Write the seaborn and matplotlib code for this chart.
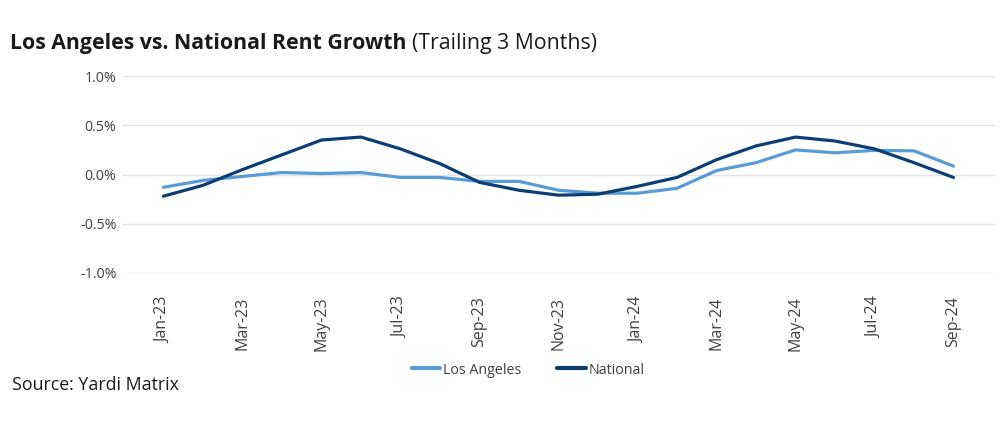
import matplotlib
matplotlib.use("Agg")
import matplotlib.pyplot as plt
import seaborn as sns
import pandas as pd
from matplotlib.ticker import FuncFormatter

# Данные (в процентах)
months = ["Jan-23", "Feb-23", "Mar-23", "Apr-23", "May-23", "Jun-23", "Jul-23",
          "Aug-23", "Sep-23", "Oct-23", "Nov-23", "Dec-23", "Jan-24", "Feb-24",
          "Mar-24", "Apr-24", "May-24", "Jun-24", "Jul-24", "Aug-24", "Sep-24"]
los_angeles = [-0.13, -0.06, -0.02, 0.02, 0.01, 0.02, -0.03, -0.03, -0.07, -0.07,
               -0.16, -0.19, -0.19, -0.14, 0.04, 0.12, 0.25, 0.22, 0.245, 0.24, 0.085]
national = [-0.22, -0.11, 0.05, 0.20, 0.35, 0.38, 0.26, 0.11, -0.08, -0.16,
            -0.21, -0.20, -0.12, -0.03, 0.15, 0.29, 0.38, 0.34, 0.26, 0.12, -0.03]

df = pd.DataFrame({"month": months * 2,
                   "value": los_angeles + national,
                   "series": ["Los Angeles"] * len(months) + ["National"] * len(months)})

colors = {"Los Angeles": "#5b9bd5", "National": "#0b3f73"}

sns.set_theme(style="white")
plt.rcParams['font.family'] = ['Open Sans', 'DejaVu Sans']

fig = plt.figure(figsize=(10.07, 4.33), dpi=100)
ax = fig.add_axes([122 / 1007, 1 - 273 / 433, (995 - 122) / 1007, (273 - 76) / 433])

sns.lineplot(data=df, x="month", y="value", hue="series", palette=colors,
             linewidth=2.3, ax=ax, legend=False, sort=False)

ax.set_ylim(-1.0, 1.0)
ax.set_yticks([-1.0, -0.5, 0.0, 0.5, 1.0])
ax.yaxis.set_major_formatter(FuncFormatter(lambda v, p: f"{v:.1f}%"))
ax.set_xlim(-1.05, len(months) - 1 + 1.05)
ax.set_xticks(range(0, len(months), 2))
ax.set_xticklabels(months[::2], rotation=90)
ax.grid(axis="y", color="#e3e3e3", linewidth=1)
ax.set_axisbelow(True)
for s in ax.spines.values():
    s.set_visible(False)
ax.tick_params(axis="y", length=0, pad=4, labelsize=10.3, labelcolor="#404040")
ax.tick_params(axis="x", length=0, pad=17, labelsize=11.5, labelcolor="#404040")
ax.set_xlabel("")
ax.set_ylabel("")

# Легенда
handles = [plt.Line2D([], [], color=colors[k], linewidth=3) for k in colors]
fig.legend(handles, list(colors.keys()), loc="center", bbox_to_anchor=(528 / 1007, 1 - 370 / 433),
           ncol=2, frameon=False, fontsize=10.3, handlelength=2.0, handletextpad=0.2,
           columnspacing=2.5, labelcolor="#404040")

# Заголовок
t1 = fig.text(10 / 1007, 1 - 44 / 433, "Los Angeles vs. National Rent Growth",
              fontsize=15.3, fontweight="bold", color="#1a1a1a", va="center")
fig.canvas.draw()
bb = t1.get_window_extent()
fig.text((bb.x1 + 6) / 1007, 1 - 44 / 433, "(Trailing 3 Months)",
         fontsize=15.3, color="#1a1a1a", va="center")

fig.text(12 / 1007, 1 - 385 / 433, "Source: Yardi Matrix", fontsize=12.8, color="#1a1a1a", va="center")

fig.savefig("out.png", dpi=100)
